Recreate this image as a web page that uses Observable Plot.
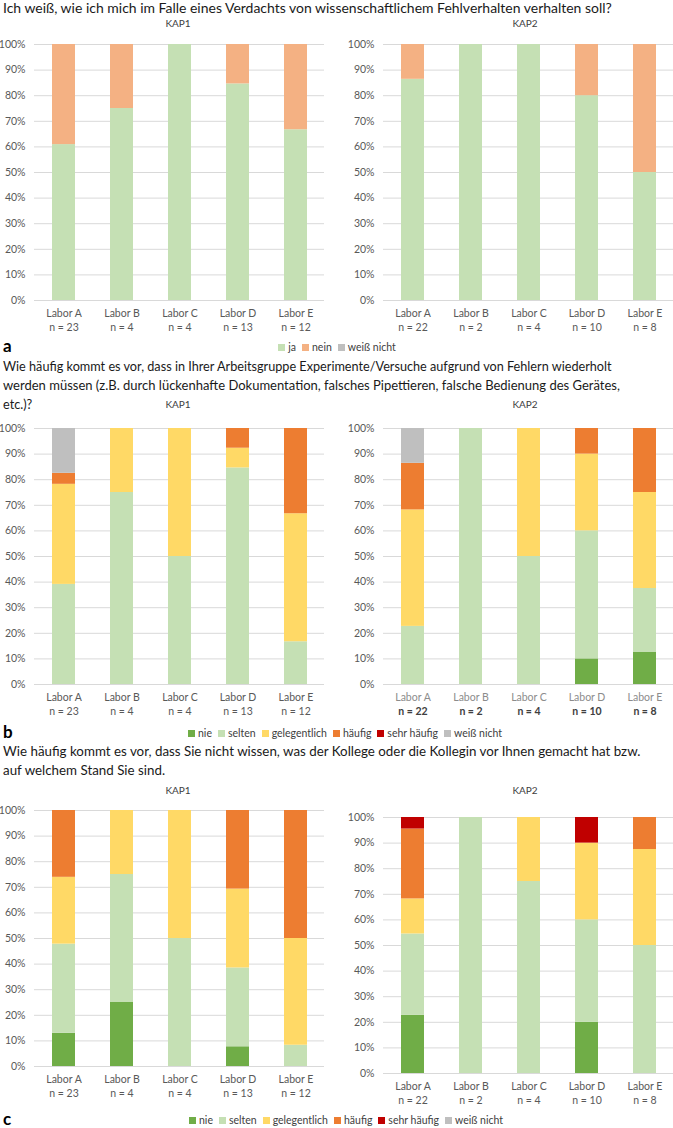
<!DOCTYPE html>
<html><head><meta charset="utf-8">
<script src="https://cdn.jsdelivr.net/npm/d3@7"></script>
<script src="https://cdn.jsdelivr.net/npm/@observablehq/plot@0.6"></script>
<style>
body{margin:0;background:#fff;font-family:Lato,sans-serif;}
#fig{position:relative;width:673px;height:1128px;overflow:hidden;background:#fff}
.abs{position:absolute;white-space:nowrap;line-height:1.15;}
.chart{position:absolute;}
.chart svg{overflow:visible;}
</style></head><body><div id="fig"></div>
<script>
// ---------- data ----------
const labs = ["Labor A", "Labor B", "Labor C", "Labor D", "Labor E"];
const nKAP1 = [23, 4, 4, 13, 12];
const nKAP2 = [22, 2, 4, 10, 8];
const yTicks = [0, 10, 20, 30, 40, 50, 60, 70, 80, 90, 100];

const catsA = ["ja", "nein", "weiß nicht"];
const colorsA = ["#C5E0B4", "#F4B183", "#BFBFBF"];
const catsF = ["nie", "selten", "gelegentlich", "häufig", "sehr häufig", "weiß nicht"];
const colorsF = ["#70AD47", "#C5E0B4", "#FFD966", "#ED7D31", "#C00000", "#BFBFBF"];

// panel a (percent)
const a1_ja    = [60.9, 75, 100, 84.6, 66.7];
const a1_nein  = [39.1, 25, 0, 15.4, 33.3];
const a1_weiss = [0, 0, 0, 0, 0];
const a2_ja    = [86.4, 100, 100, 80, 50];
const a2_nein  = [13.6, 0, 0, 20, 50];
const a2_weiss = [0, 0, 0, 0, 0];

// panel b (percent)
const b1_nie   = [0, 0, 0, 0, 0];
const b1_selt  = [39.1, 75, 50, 84.6, 16.7];
const b1_gel   = [39.1, 25, 50, 7.7, 50];
const b1_haeuf = [4.3, 0, 0, 7.7, 33.3];
const b1_sehr  = [0, 0, 0, 0, 0];
const b1_weiss = [17.5, 0, 0, 0, 0];
const b2_nie   = [0, 0, 0, 10, 12.5];
const b2_selt  = [22.7, 100, 50, 50, 25];
const b2_gel   = [45.5, 0, 50, 30, 37.5];
const b2_haeuf = [18.2, 0, 0, 10, 25];
const b2_sehr  = [0, 0, 0, 0, 0];
const b2_weiss = [13.6, 0, 0, 0, 0];

// panel c (percent)
const c1_nie   = [13.0, 25, 0, 7.7, 0];
const c1_selt  = [34.8, 50, 50, 30.8, 8.3];
const c1_gel   = [26.1, 25, 50, 30.8, 41.7];
const c1_haeuf = [26.1, 0, 0, 30.7, 50];
const c1_sehr  = [0, 0, 0, 0, 0];
const c1_weiss = [0, 0, 0, 0, 0];
const c2_nie   = [22.7, 0, 0, 20, 0];
const c2_selt  = [31.8, 100, 75, 40, 50];
const c2_gel   = [13.7, 0, 25, 30, 37.5];
const c2_haeuf = [27.3, 0, 0, 0, 12.5];
const c2_sehr  = [4.5, 0, 0, 10, 0];
const c2_weiss = [0, 0, 0, 0, 0];

const qA  = "Ich weiß, wie ich mich im Falle eines Verdachts von wissenschaftlichem Fehlverhalten verhalten soll?";
const qB1 = "Wie häufig kommt es vor, dass in Ihrer Arbeitsgruppe Experimente/Versuche aufgrund von Fehlern wiederholt";
const qB2 = "werden müssen (z.B. durch lückenhafte Dokumentation, falsches Pipettieren, falsche Bedienung des Gerätes,";
const qB3 = "etc.)?";
const qC1 = "Wie häufig kommt es vor, dass Sie nicht wissen, was der Kollege oder die Kollegin vor Ihnen gemacht hat bzw.";
const qC2 = "auf welchem Stand Sie sind.";

// ---------- layout helpers ----------
const fig = document.getElementById("fig");
const FONT = "Lato, sans-serif";

function addText(str, {x, cy, anchor = "start", size = 12, weight = 400, color = "#000", fit = null}) {
  const el = document.createElement("div");
  el.className = "abs";
  el.textContent = str;
  el.style.fontFamily = FONT;
  el.style.fontSize = size + "px";
  el.style.fontWeight = weight;
  el.style.color = color;
  fig.appendChild(el);
  let w = el.getBoundingClientRect().width;
  if (fit) {
    size = size * fit / w;
    el.style.fontSize = size + "px";
    w = el.getBoundingClientRect().width;
  }
  const h = el.getBoundingClientRect().height;
  const left = anchor === "start" ? x : anchor === "middle" ? x - w / 2 : x - w;
  el.style.left = left + "px";
  el.style.top = Math.max(0, cy - h / 2) + "px";
  return size;
}

function addLegend(cats, colors, cx, cy, size) {
  const el = document.createElement("div");
  el.className = "abs";
  el.style.display = "flex";
  el.style.alignItems = "center";
  el.style.fontFamily = FONT;
  el.style.fontSize = size + "px";
  el.style.color = "#404040";
  cats.forEach((c, i) => {
    const sw = document.createElement("span");
    sw.style.cssText = `display:inline-block;width:7px;height:7px;background:${colors[i]};margin-right:3px;`;
    const t = document.createElement("span");
    t.textContent = c;
    t.style.marginRight = i < cats.length - 1 ? "6px" : "0";
    el.appendChild(sw); el.appendChild(t);
  });
  fig.appendChild(el);
  const r = el.getBoundingClientRect();
  el.style.left = (cx - r.width / 2) + "px";
  el.style.top = (cy - r.height / 2) + "px";
}

function panel({series, cats, colors, ns, left, top, width, marginLeft, marginRight,
                labColor = "#595959", nColor = "#595959", nWeight = 400}) {
  const data = [];
  cats.forEach((c, k) => labs.forEach((l, i) => {
    const v = series[k][i];
    if (v > 0) data.push({lab: l, cat: c, v});
  }));
  const chart = Plot.plot({
    width, height: 10 + 256 + 45,
    marginTop: 10, marginBottom: 45, marginLeft, marginRight,
    style: {fontFamily: FONT, fontSize: "10.5px", color: "#595959", background: "transparent"},
    x: {domain: labs, paddingInner: 0.61, paddingOuter: 0.305, axis: null, label: null},
    y: {domain: [0, 100], axis: null, label: null},
    color: {domain: cats, range: colors},
    marks: [
      Plot.gridY(yTicks, {stroke: "#d9d9d9", strokeOpacity: 1}),
      Plot.barY(data, {x: "lab", y: "v", fill: "cat", order: cats}),
      Plot.axisY(yTicks, {tickSize: 0, tickPadding: 9, tickFormat: d => d + "%", fill: "#595959", label: null}),
      Plot.axisX({tickSize: 0, tickPadding: 9, fill: labColor, label: null}),
      Plot.text(labs, {x: d => d, text: (d, i) => "n = " + ns[i], frameAnchor: "bottom", dy: 30,
                       fill: nColor, fontWeight: nWeight})
    ]
  });
  const wrap = document.createElement("div");
  wrap.className = "chart";
  wrap.style.left = left + "px";
  wrap.style.top = top + "px";
  wrap.appendChild(chart);
  fig.appendChild(wrap);
}

const L1 = {left: 0, width: 337, marginLeft: 34, marginRight: 13};
const L2 = {left: 337, width: 336, marginLeft: 46, marginRight: 0};

// ---------- panel a ----------
addText(qA, {x: 3, cy: 8, fit: 609, color: "#1a1a1a"});
addText("KAP1", {x: 178, cy: 24, anchor: "middle", size: 10, color: "#404040"});
addText("KAP2", {x: 525, cy: 24, anchor: "middle", size: 10, color: "#404040"});
panel({...L1, top: 34, series: [a1_ja, a1_nein, a1_weiss], cats: catsA, colors: colorsA, ns: nKAP1});
panel({...L2, top: 34, series: [a2_ja, a2_nein, a2_weiss], cats: catsA, colors: colorsA, ns: nKAP2});
addText("a", {x: 3, cy: 346, size: 17, weight: 700, color: "#000"});
addLegend(catsA, colorsA, 337, 347, 10.5);

// ---------- panel b ----------
const sb = addText(qB1, {x: 3, cy: 366, fit: 609, color: "#1a1a1a"});
addText(qB2, {x: 3, cy: 385, fit: 617, color: "#1a1a1a"});
addText(qB3, {x: 3, cy: 404, size: sb, color: "#1a1a1a"});
addText("KAP1", {x: 178, cy: 405, anchor: "middle", size: 10, color: "#404040"});
addText("KAP2", {x: 525, cy: 405, anchor: "middle", size: 10, color: "#404040"});
panel({...L1, top: 418, series: [b1_nie, b1_selt, b1_gel, b1_haeuf, b1_sehr, b1_weiss], cats: catsF, colors: colorsF, ns: nKAP1});
panel({...L2, top: 418, series: [b2_nie, b2_selt, b2_gel, b2_haeuf, b2_sehr, b2_weiss], cats: catsF, colors: colorsF, ns: nKAP2,
       labColor: "#8c8c8c", nColor: "#404040", nWeight: 700});
addText("b", {x: 3, cy: 732, size: 17, weight: 700, color: "#000"});
addLegend(catsF, colorsF, 345, 733, 10.5);

// ---------- panel c ----------
const sc = addText(qC1, {x: 3, cy: 752, fit: 638, color: "#1a1a1a"});
addText(qC2, {x: 3, cy: 771, size: sc, color: "#1a1a1a"});
addText("KAP1", {x: 178, cy: 791, anchor: "middle", size: 10, color: "#404040"});
addText("KAP2", {x: 525, cy: 791, anchor: "middle", size: 10, color: "#404040"});
panel({...L1, top: 800, series: [c1_nie, c1_selt, c1_gel, c1_haeuf, c1_sehr, c1_weiss], cats: catsF, colors: colorsF, ns: nKAP1});
panel({...L2, top: 807, series: [c2_nie, c2_selt, c2_gel, c2_haeuf, c2_sehr, c2_weiss], cats: catsF, colors: colorsF, ns: nKAP2});
addText("c", {x: 3, cy: 1119, size: 17, weight: 700, color: "#000"});
addLegend(catsF, colorsF, 346, 1120, 10.5);
</script></body></html>
